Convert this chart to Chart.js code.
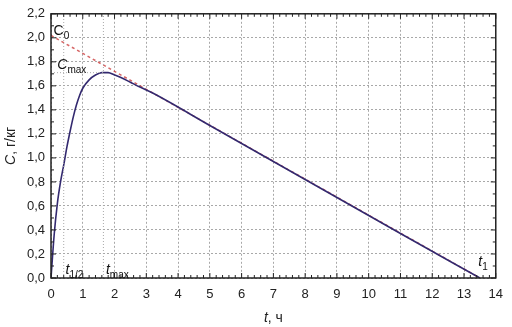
<!DOCTYPE html>
<html>
<head>
<meta charset="utf-8">
<script src="https://cdn.jsdelivr.net/npm/chart.js@4.4.1/dist/chart.umd.min.js"></script>
<style>
  html, body { margin: 0; padding: 0; background: #fff; }
  #wrap { width: 512px; height: 327px; }
</style>
</head>
<body>
<div id="wrap"><canvas id="pkChart" width="512" height="327"></canvas></div>
<script>
// concentration curve (t in hours, C in g/kg)
const timeHours = [0, 0.1, 0.2, 0.3, 0.4, 0.5, 0.6, 0.7, 0.8, 0.9, 1.0, 1.2, 1.4, 1.6, 1.8, 2.0, 2.2, 2.5, 2.8, 3.2, 5, 8, 11, 13.5];
const concentration = [0, 0.36, 0.62, 0.8, 0.94, 1.09, 1.22, 1.34, 1.44, 1.52, 1.58, 1.65, 1.69, 1.71, 1.71, 1.69, 1.67, 1.63, 1.59, 1.54, 1.27, 0.82, 0.37, 0];

// extrapolated elimination line (red dashed)
const tangentTime = [0, 13.5];
const tangentConc = [2.02, 0];

// characteristic points
const tHalf = 0.4;
const tMax = 1.65;
const cMax = 1.71;

const xTickLabels = ['0', '1', '2', '3', '4', '5', '6', '7', '8', '9', '10', '11', '12', '13', '14'];
const yTickLabels = ['0,0', '0,2', '0,4', '0,6', '0,8', '1,0', '1,2', '1,4', '1,6', '1,8', '2,0', '2,2'];

// text labels: [main, subscript, t, C, italic]
const markLabels = [
    ['C', '0', 0.08, 2.02, false],
    ['C', 'max', 0.2, 1.74, true],
    ['t', '1/2', 0.46, 0.03, true],
    ['t', 'max', 1.73, 0.03, true],
    ['t', '1', 13.45, 0.1, true]
];

const FONT = "'Liberation Sans', Arial, sans-serif";

function toPoints(xs, ys) {
    return xs.map((x, i) => ({ x: x, y: ys[i] }));
}

// draws "italic part" + "upright part" centred on (0,0)
function mixedText(ctx, ital, rest, size) {
    ctx.font = 'italic ' + size + 'px ' + FONT;
    const w1 = ctx.measureText(ital).width;
    ctx.font = size + 'px ' + FONT;
    const w2 = ctx.measureText(rest).width;
    const x0 = -(w1 + w2) / 2;
    ctx.font = 'italic ' + size + 'px ' + FONT;
    ctx.fillText(ital, x0, 0);
    ctx.font = size + 'px ' + FONT;
    ctx.fillText(rest, x0 + w1, 0);
}

const framePlugin = {
    id: 'frame',
    afterDraw(chart) {
        const ctx = chart.ctx;
        const a = chart.chartArea;
        const xs = chart.scales.x, ys = chart.scales.y;
        ctx.save();
        ctx.strokeStyle = '#222';
        ctx.lineWidth = 1.5;
        ctx.strokeRect(a.left, a.top, a.right - a.left, a.bottom - a.top);

        // ticks inside the frame
        ctx.lineWidth = 1;
        for (let i = 0; i <= 70; i++) {
            const x = xs.getPixelForValue(i * 0.2);
            const len = i % 5 === 0 ? 5 : 3;
            ctx.beginPath();
            ctx.moveTo(x, a.bottom); ctx.lineTo(x, a.bottom - len);
            ctx.moveTo(x, a.top); ctx.lineTo(x, a.top + len);
            ctx.stroke();
        }
        for (let i = 0; i <= 22; i++) {
            const y = ys.getPixelForValue(i * 0.1);
            const len = i % 2 === 0 ? 5 : 3;
            ctx.beginPath();
            ctx.moveTo(a.left, y); ctx.lineTo(a.left + len, y);
            ctx.moveTo(a.right, y); ctx.lineTo(a.right - len, y);
            ctx.stroke();
        }

        // point labels with subscripts
        ctx.fillStyle = '#111';
        ctx.textBaseline = 'alphabetic';
        ctx.textAlign = 'left';
        markLabels.forEach(m => {
            const px = xs.getPixelForValue(m[2]);
            const py = ys.getPixelForValue(m[3]);
            ctx.font = (m[4] ? 'italic ' : '') + '14px ' + FONT;
            ctx.fillText(m[0], px, py);
            const w = ctx.measureText(m[0]).width;
            ctx.font = '10px ' + FONT;
            ctx.fillText(m[1], px + w, py + 4);
        });

        // axis titles
        ctx.fillStyle = '#222';
        ctx.textBaseline = 'middle';
        ctx.save();
        ctx.translate((a.left + a.right) / 2, 318);
        mixedText(ctx, 't', ', ч', 14);
        ctx.restore();
        ctx.save();
        ctx.translate(11, (a.top + a.bottom) / 2);
        ctx.rotate(-Math.PI / 2);
        mixedText(ctx, 'C', ', г/кг', 14);
        ctx.restore();
        ctx.restore();
    }
};

const ctx = document.getElementById('pkChart').getContext('2d');
const myChart = new Chart(ctx, {
    type: 'scatter',
    data: {
        datasets: [
            {
                label: 't1/2',
                data: [{ x: tHalf, y: 0 }, { x: tHalf, y: 2.2 }],
                showLine: true,
                borderColor: '#aaa',
                borderWidth: 1,
                borderDash: [1, 2],
                pointRadius: 0
            },
            {
                label: 'tmax',
                data: [{ x: tMax, y: 0 }, { x: tMax, y: 2.2 }],
                showLine: true,
                borderColor: '#aaa',
                borderWidth: 1,
                borderDash: [1, 2],
                pointRadius: 0
            },
            {
                label: 'Cmax',
                data: [{ x: 0, y: cMax }, { x: tMax, y: cMax }],
                showLine: true,
                borderColor: '#aaa',
                borderWidth: 1,
                borderDash: [1, 2],
                pointRadius: 0
            },
            {
                label: 'C',
                data: toPoints(timeHours, concentration),
                showLine: true,
                borderColor: '#33296f',
                borderWidth: 1.6,
                pointRadius: 0,
                cubicInterpolationMode: 'monotone'
            },
            {
                label: 'extrapolation',
                data: toPoints(tangentTime, tangentConc),
                showLine: true,
                borderColor: 'rgba(200, 50, 50, 0.75)',
                borderWidth: 1.5,
                borderDash: [3, 3],
                pointRadius: 0
            }
        ]
    },
    options: {
        responsive: false,
        animation: false,
        events: [],
        layout: { padding: { top: 11, right: 9, left: 2, bottom: 0 } },
        plugins: {
            legend: { display: false },
            tooltip: { enabled: false }
        },
        scales: {
            x: {
                type: 'linear',
                min: 0,
                max: 14,
                ticks: {
                    stepSize: 1,
                    color: '#222',
                    padding: 9,
                    font: { family: FONT, size: 13 },
                    callback: (v, i) => xTickLabels[i]
                },
                grid: { color: '#a8a8a8', lineWidth: 1, drawTicks: false },
                border: { display: false, dash: [2, 2] },
                afterFit: s => { s.height = 49; }
            },
            y: {
                type: 'linear',
                min: 0,
                max: 2.2,
                ticks: {
                    stepSize: 0.2,
                    color: '#222',
                    padding: 6,
                    font: { family: FONT, size: 13 },
                    callback: (v, i) => yTickLabels[i]
                },
                grid: { color: '#a8a8a8', lineWidth: 1, drawTicks: false },
                border: { display: false, dash: [2, 2] },
                afterFit: s => { s.width = 49; }
            }
        }
    },
    plugins: [framePlugin]
});
</script>
</body>
</html>
